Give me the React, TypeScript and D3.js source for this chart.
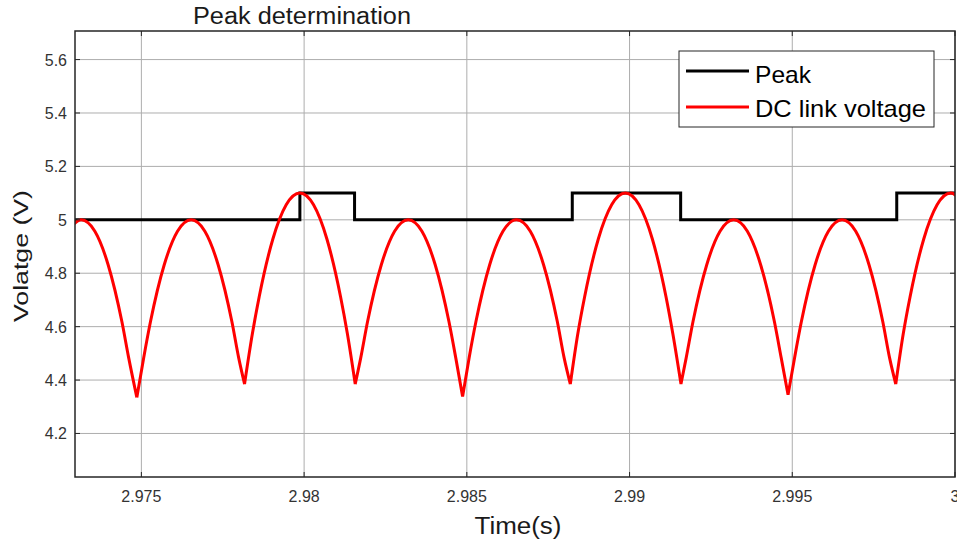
import React from "react";
import * as d3 from "d3";

const W = 957;
const H = 544;

const xTickValues = [2.975, 2.98, 2.985, 2.99, 2.995, 3.0];
const xTickLabels = ["2.975", "2.98", "2.985", "2.99", "2.995", "3"];
const yTickValues = [4.2, 4.4, 4.6, 4.8, 5.0, 5.2, 5.4, 5.6];
const yTickLabels = ["4.2", "4.4", "4.6", "4.8", "5", "5.2", "5.4", "5.6"];

const seriesNames = ["Peak", "DC link voltage"];
const seriesColors = ["#000000", "#ff0000"];
const legendTextWidths = [56, 171];

// Peak detector output (step signal)
const peakTime = [2.97296, 2.97987, 2.98155, 2.98824, 2.99157, 2.99821, 3.0];
const peakVolt = [5.0, 5.1, 5.0, 5.1, 5.0, 5.1, 5.1];

// DC link voltage samples
const dcTime = [
  2.97273, 2.97315, 2.97357, 2.97398, 2.9744, 2.97461, 2.97486,
  2.97507, 2.97528, 2.9757, 2.97611, 2.97653, 2.97695, 2.97736, 2.97778, 2.97799, 2.97817,
  2.97841, 2.97862, 2.97904, 2.97945, 2.97987, 2.98029, 2.9807, 2.98112, 2.98133, 2.98157,
  2.98174, 2.98195, 2.98237, 2.98278, 2.9832, 2.98362, 2.98403, 2.98445, 2.98466, 2.98487,
  2.98507, 2.98528, 2.9857, 2.98611, 2.98653, 2.98695, 2.98736, 2.98778, 2.98799, 2.98818,
  2.98841, 2.98862, 2.98904, 2.98945, 2.98987, 2.99029, 2.9907, 2.99112, 2.99133, 2.99158,
  2.99174, 2.99195, 2.99237, 2.99278, 2.9932, 2.99362, 2.99403, 2.99445, 2.99466, 2.99487,
  2.99507, 2.99528, 2.9957, 2.99611, 2.99653, 2.99695, 2.99736, 2.99778, 2.99799, 2.99818,
  2.99841, 2.99862, 2.99904, 2.99945, 2.99987, 3.00029,
];
const dcVolt = [
  4.957, 5.0, 4.957, 4.831, 4.619, 4.483, 4.335,
  4.483, 4.619, 4.831, 4.957, 5.0, 4.957, 4.831, 4.619, 4.483, 4.385,
  4.573, 4.712, 4.928, 5.056, 5.1, 5.056, 4.928, 4.712, 4.573, 4.385,
  4.483, 4.619, 4.831, 4.957, 5.0, 4.957, 4.831, 4.619, 4.483, 4.338,
  4.483, 4.619, 4.831, 4.957, 5.0, 4.957, 4.831, 4.619, 4.483, 4.385,
  4.573, 4.712, 4.928, 5.056, 5.1, 5.056, 4.928, 4.712, 4.573, 4.385,
  4.483, 4.619, 4.831, 4.957, 5.0, 4.957, 4.831, 4.619, 4.483, 4.345,
  4.483, 4.619, 4.831, 4.957, 5.0, 4.957, 4.831, 4.619, 4.483, 4.385,
  4.573, 4.712, 4.928, 5.056, 5.1, 5.056,
];

const plot = { left: 75, right: 955, top: 31, bottom: 477 };

export default function App() {
  const x = d3.scaleLinear().domain([2.97296, 3.0]).range([plot.left, plot.right]);
  const y = d3.scaleLinear().domain([4.037, 5.707]).range([plot.bottom, plot.top]);

  const peakPts: [number, number][] = peakTime.map((t, i) => [t, peakVolt[i]]);
  const peakLine = d3
    .line<[number, number]>()
    .x((d) => x(d[0]))
    .y((d) => y(d[1]))
    .curve(d3.curveStepAfter);

  // split the DC series into arcs at the cusps (local minima)
  const segments: [number, number][][] = [];
  let cur: [number, number][] = [];
  dcTime.forEach((t, i) => {
    const p: [number, number] = [t, dcVolt[i]];
    cur.push(p);
    const isCusp =
      i > 0 && i < dcTime.length - 1 && dcVolt[i] < dcVolt[i - 1] && dcVolt[i] < dcVolt[i + 1];
    if (isCusp) {
      segments.push(cur);
      cur = [p];
    }
  });
  if (cur.length > 1) segments.push(cur);

  const dcLine = d3
    .line<[number, number]>()
    .x((d) => x(d[0]))
    .y((d) => y(d[1]))
    .curve(d3.curveMonotoneX);
  const dcPath = segments.map((s) => dcLine(s)).join("");

  const axisColor = "#262626";
  const gridColor = "#adadad";
  const tickLen = 5;
  const font = "'Liberation Sans', Arial, Helvetica, sans-serif";

  return (
    <svg
      width={W}
      height={H}
      style={{ position: "absolute", left: 0, top: 0, background: "#fff" }}
      fontFamily={font}
    >
      <defs>
        <clipPath id="plotClip">
          <rect x={plot.left} y={plot.top} width={plot.right - plot.left} height={plot.bottom - plot.top} />
        </clipPath>
      </defs>
      <rect x={0} y={0} width={W} height={H} fill="#fff" />

      {/* grid */}
      {xTickValues.map((v, i) => (
        <line key={"gx" + i} x1={x(v)} x2={x(v)} y1={plot.top} y2={plot.bottom} stroke={gridColor} strokeWidth={1} />
      ))}
      {yTickValues.map((v, i) => (
        <line key={"gy" + i} x1={plot.left} x2={plot.right} y1={y(v)} y2={y(v)} stroke={gridColor} strokeWidth={1} />
      ))}

      {/* data */}
      <g clipPath="url(#plotClip)">
        <path d={peakLine(peakPts) || ""} fill="none" stroke={seriesColors[0]} strokeWidth={3} strokeLinejoin="miter" />
        <path d={dcPath} fill="none" stroke={seriesColors[1]} strokeWidth={3} strokeLinejoin="round" />
      </g>

      {/* ticks */}
      {xTickValues.map((v, i) => (
        <g key={"tx" + i}>
          <line x1={x(v)} x2={x(v)} y1={plot.bottom} y2={plot.bottom - tickLen} stroke={axisColor} strokeWidth={1} />
          <line x1={x(v)} x2={x(v)} y1={plot.top} y2={plot.top + tickLen} stroke={axisColor} strokeWidth={1} />
          <text x={x(v)} y={502} textAnchor="middle" fontSize={16} fill="#333">
            {xTickLabels[i]}
          </text>
        </g>
      ))}
      {yTickValues.map((v, i) => (
        <g key={"ty" + i}>
          <line x1={plot.left} x2={plot.left + tickLen} y1={y(v)} y2={y(v)} stroke={axisColor} strokeWidth={1} />
          <line x1={plot.right} x2={plot.right - tickLen} y1={y(v)} y2={y(v)} stroke={axisColor} strokeWidth={1} />
          <text x={67} y={y(v) + 6} textAnchor="end" fontSize={16} fill="#333">
            {yTickLabels[i]}
          </text>
        </g>
      ))}

      {/* axes box */}
      <rect
        x={plot.left}
        y={plot.top}
        width={plot.right - plot.left}
        height={plot.bottom - plot.top}
        fill="none"
        stroke={axisColor}
        strokeWidth={1.5}
      />

      {/* title and labels */}
      <text x={302} y={24} textAnchor="middle" fontSize={23} fill="#1a1a1a" textLength={218} lengthAdjust="spacingAndGlyphs">
        Peak determination
      </text>
      <text x={518} y={534} textAnchor="middle" fontSize={23} fill="#1a1a1a" textLength={87} lengthAdjust="spacingAndGlyphs">
        Time(s)
      </text>
      <text
        transform={`translate(28, ${(plot.top + plot.bottom) / 2 + 2}) rotate(-90)`}
        textAnchor="middle"
        fontSize={21}
        fill="#1a1a1a"
        textLength={132}
        lengthAdjust="spacingAndGlyphs"
      >
        Volatge (V)
      </text>

      {/* legend */}
      <g>
        <rect x={679} y={51} width={255} height={76} fill="#fff" stroke={axisColor} strokeWidth={1} />
        {seriesNames.map((name, i) => (
          <g key={"lg" + i}>
            <line x1={686} x2={749} y1={71 + i * 36} y2={71 + i * 36} stroke={seriesColors[i]} strokeWidth={3} />
            <text
              x={755}
              y={83 + i * 34}
              fontSize={24}
              fill="#000"
              textLength={legendTextWidths[i]}
              lengthAdjust="spacingAndGlyphs"
            >
              {name}
            </text>
          </g>
        ))}
      </g>
    </svg>
  );
}
